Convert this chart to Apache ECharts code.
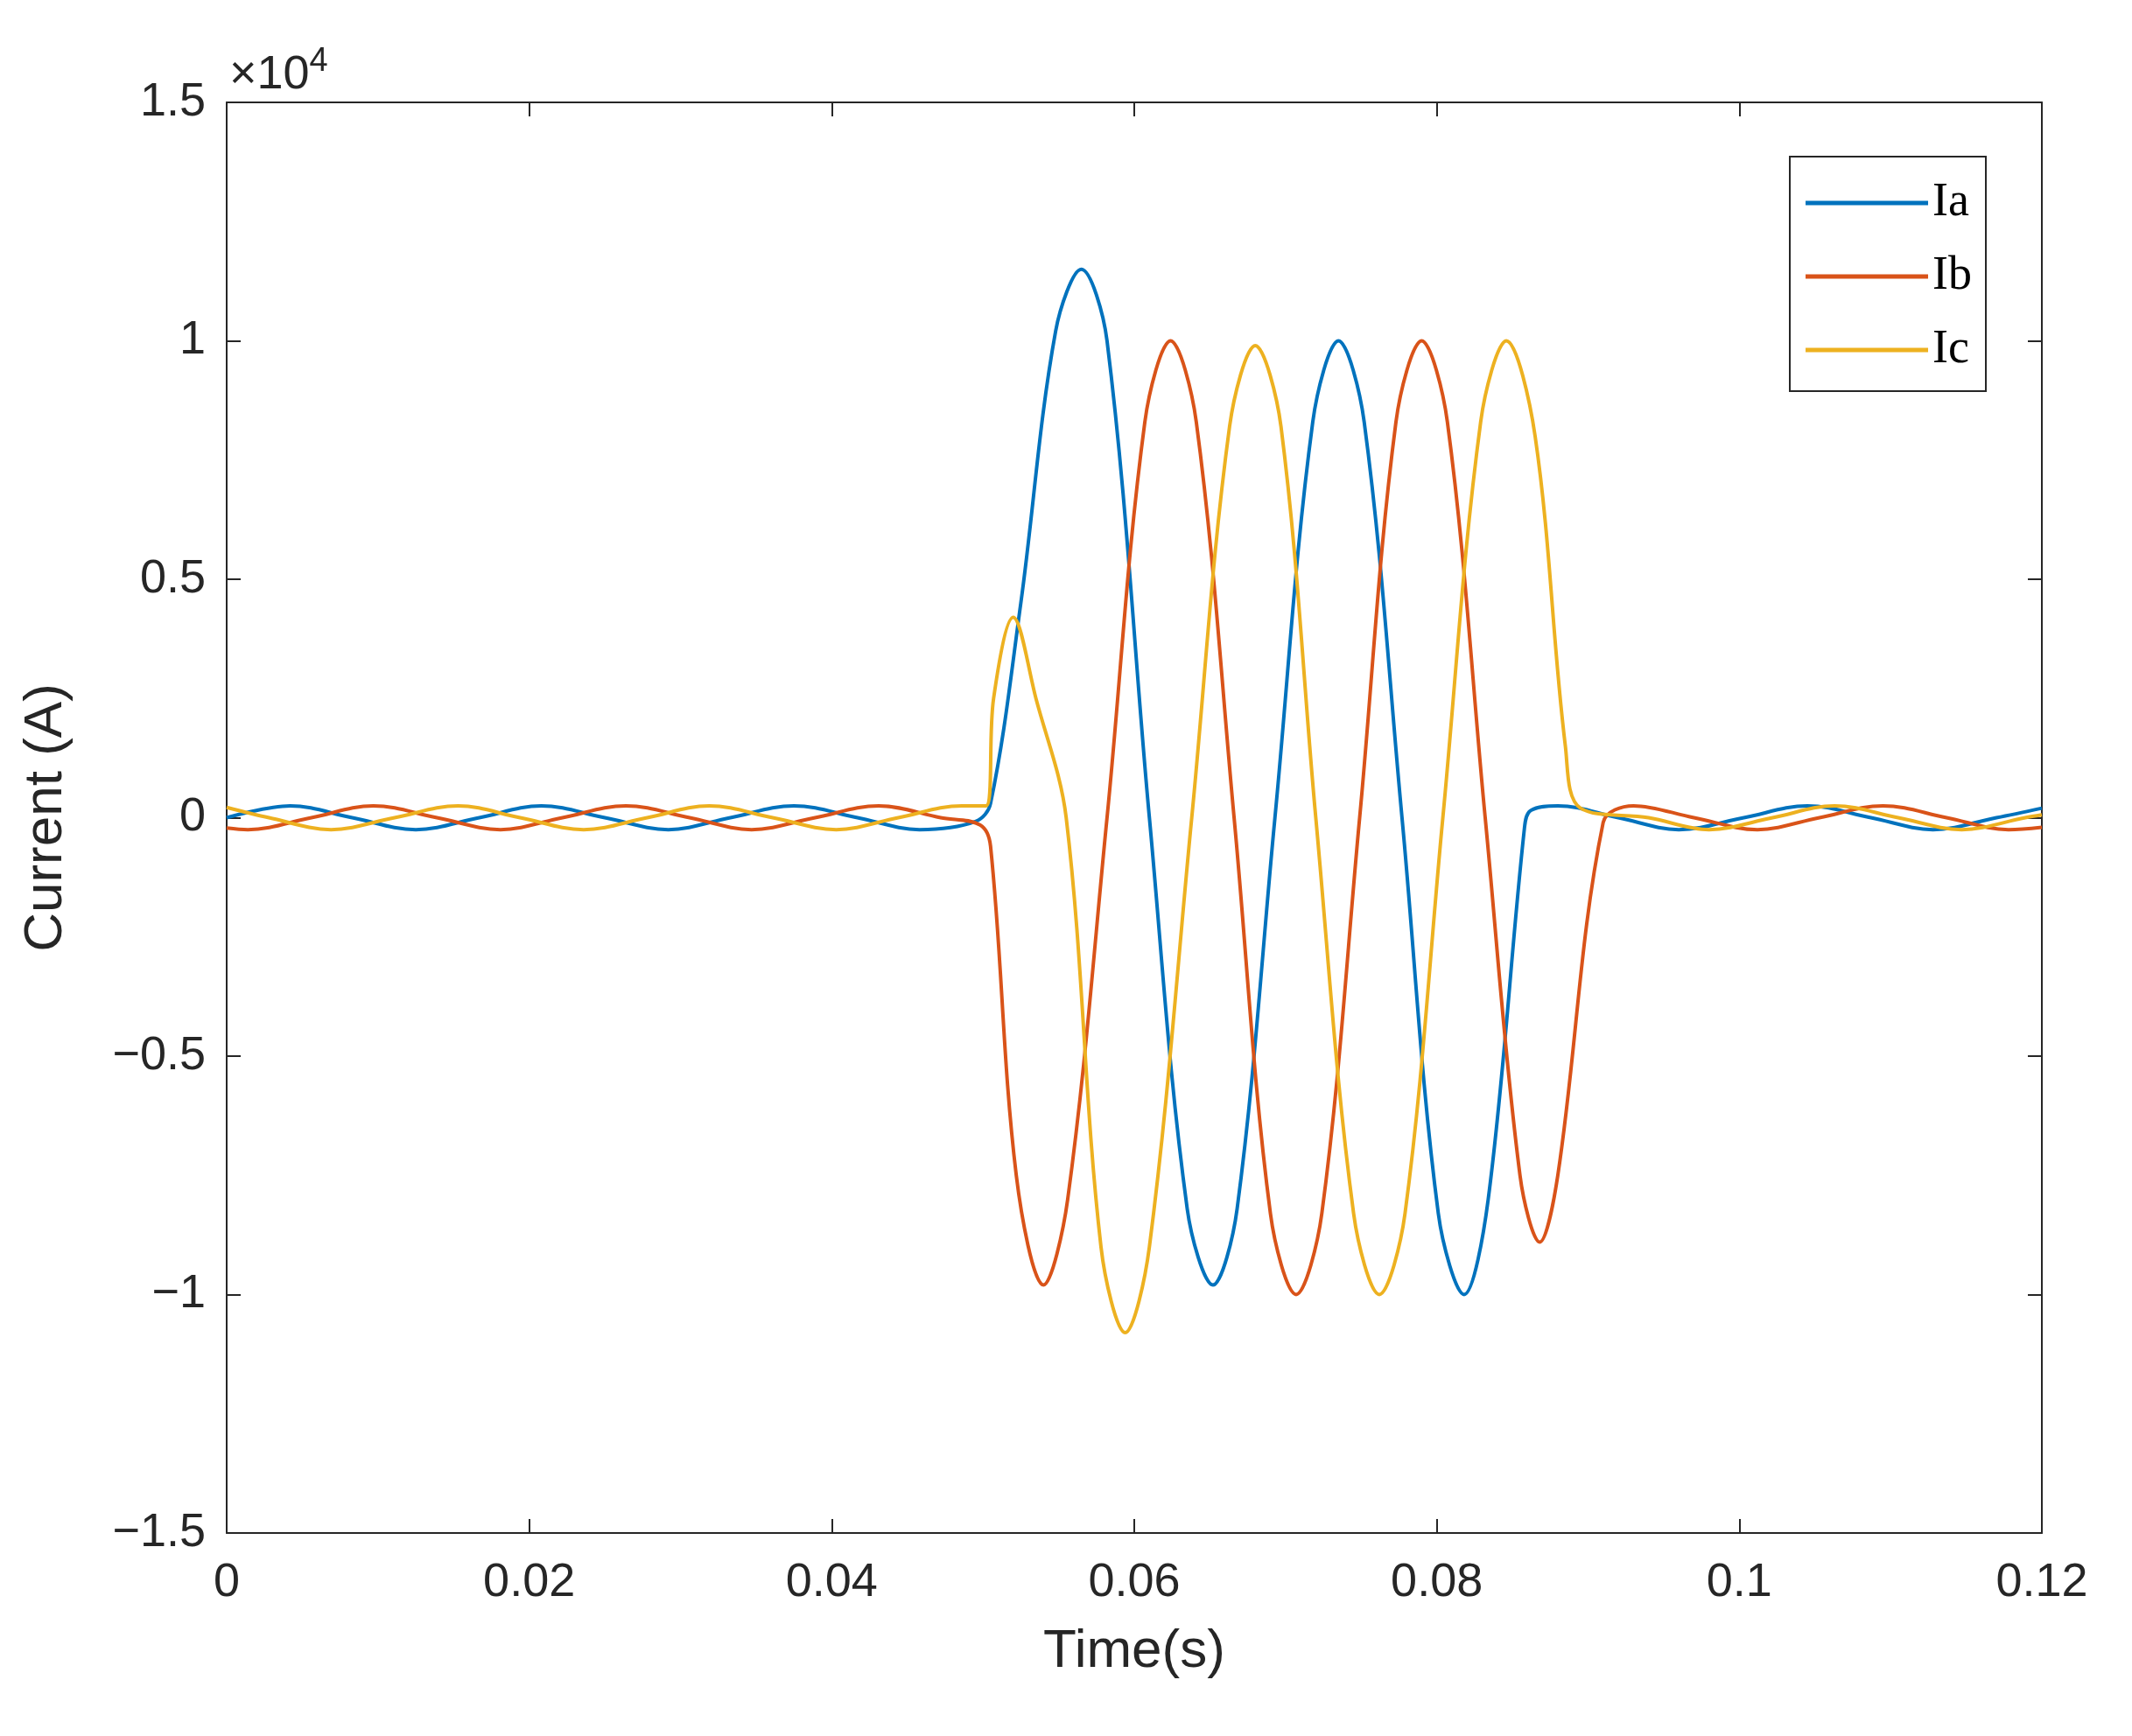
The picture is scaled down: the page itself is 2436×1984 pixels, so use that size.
<!DOCTYPE html>
<html>
<head>
<meta charset="utf-8">
<script src="https://cdn.jsdelivr.net/npm/echarts@6/dist/echarts.min.js"></script>
<style>html,body{margin:0;background:#fff}#c{width:2436px;height:1984px}</style>
</head>
<body>
<div id="c"></div>
<script>
// waveform samples: [time (s), current (A)]
const iaPoints = [
  [0, 0], [0.0042, 250], [0.0083, 0], [0.0125, -250], [0.0167, 0], [0.0208, 250], [0.025, 0],
  [0.0292, -250], [0.0333, 0], [0.0375, 250], [0.0417, 0], [0.0458, -250], [0.0495, -80],
  [0.0505, 300], [0.0525, 4500], [0.0548, 10200], [0.0565, 11500], [0.0582, 10000],
  [0.0610, 0], [0.0635, -8200], [0.0652, -9800], [0.0668, -8200], [0.0693, 0],
  [0.0718, 8300], [0.0735, 10000], [0.0752, 8300], [0.0777, 0], [0.0801, -8300],
  [0.0818, -10000], [0.0834, -8000], [0.0858, -200], [0.0862, 150], [0.088, 250],
  [0.092, 0], [0.096, -250], [0.1003, 0], [0.1045, 250], [0.1087, 0], [0.1128, -250],
  [0.117, 0], [0.12, 200]
];
const ibPoints = [
  [0, -216], [0.0014, -250], [0.0056, 0], [0.0097, 250], [0.0139, 0], [0.0181, -250],
  [0.0222, 0], [0.0264, 250], [0.0306, 0], [0.0347, -250], [0.0389, 0], [0.0431, 250],
  [0.0472, 0], [0.0498, -150], [0.0505, -600], [0.0522, -7500], [0.054, -9800],
  [0.0556, -8000], [0.0582, 0], [0.0607, 8300], [0.0624, 10000], [0.0641, 8300],
  [0.0666, 0], [0.069, -8300], [0.0707, -10000], [0.0724, -8300], [0.0749, 0],
  [0.0773, 8300], [0.079, 10000], [0.0807, 8300], [0.0832, 0], [0.0855, -7500],
  [0.0868, -8900], [0.088, -7500], [0.091, -100], [0.093, 250], [0.097, 0],
  [0.1012, -250], [0.1053, 0], [0.1095, 250], [0.1137, 0], [0.1178, -250], [0.12, -200]
];
const icPoints = [
  [0, 216], [0.0028, 0], [0.0069, -250], [0.0111, 0], [0.0153, 250], [0.0194, 0],
  [0.0236, -250], [0.0278, 0], [0.0319, 250], [0.0361, 0], [0.0403, -250], [0.0444, 0],
  [0.0486, 250], [0.0502, 250], [0.0507, 2500], [0.052, 4200], [0.0535, 2500],
  [0.0555, 0], [0.0578, -9000], [0.0594, -10800], [0.061, -9000], [0.0638, 0],
  [0.0663, 8200], [0.068, 9900], [0.0697, 8200], [0.072, 0], [0.0745, -8300],
  [0.0762, -10000], [0.0779, -8300], [0.0804, 0], [0.0829, 8300], [0.0846, 10000],
  [0.0865, 8000], [0.0885, 1500], [0.0895, 200], [0.094, 0], [0.098, -250],
  [0.1022, 0], [0.1063, 250], [0.1105, 0], [0.1147, -250], [0.1189, 0], [0.12, 60]
];
const xTicks = [0, 0.02, 0.04, 0.06, 0.08, 0.1, 0.12];
const yTicks = [-15000, -10000, -5000, 0, 5000, 10000, 15000];

const chart = echarts.init(document.getElementById('c'));
const font = 'Arial, "Liberation Sans", sans-serif';
function axisCommon() {
  return {
    axisLine: { onZero: false, lineStyle: { color: '#262626', width: 2 } },
    axisTick: { inside: true, length: 16, lineStyle: { color: '#262626', width: 2 } },
    splitLine: { show: false }
  };
}
function fmtY(v) {
  const s = String(v / 1e4);
  return s.replace('-', '\u2212');
}
function line(name, pts, color) {
  return {
    name: name, type: 'line', data: pts, smooth: 0.35, symbol: 'none',
    lineStyle: { color: color, width: 4 }, itemStyle: { color: color }
  };
}
chart.setOption({
  animation: false,
  backgroundColor: '#fff',
  grid: { left: 259, right: 103, top: 117, bottom: 232 },
  xAxis: [
    Object.assign({
      type: 'value', min: 0, max: 0.12, interval: 0.02,
      name: 'Time(s)', nameLocation: 'middle', nameGap: 105,
      nameTextStyle: { fontFamily: font, fontSize: 62, color: '#262626' },
      axisLabel: { fontFamily: font, fontSize: 54, color: '#262626', margin: 30,
        formatter: v => String(+v.toFixed(2)) }
    }, axisCommon()),
    Object.assign({ type: 'value', position: 'top', min: 0, max: 0.12, interval: 0.02,
      axisLabel: { show: false } }, axisCommon())
  ],
  yAxis: [
    Object.assign({
      type: 'value', min: -15000, max: 15000, interval: 5000,
      name: 'Current (A)', nameLocation: 'middle', nameGap: 175,
      nameTextStyle: { fontFamily: font, fontSize: 62, color: '#262626' },
      axisLabel: { fontFamily: font, fontSize: 54, color: '#262626', margin: 24, formatter: fmtY }
    }, axisCommon()),
    Object.assign({ type: 'value', position: 'right', min: -15000, max: 15000, interval: 5000,
      axisLabel: { show: false } }, axisCommon())
  ],
  legend: {
    orient: 'vertical', right: 167, top: 179, itemWidth: 140, itemHeight: 5, itemGap: 30,
    icon: 'rect',
    padding: [26, 16, 20, 18], borderColor: '#262626', borderWidth: 2, backgroundColor: '#fff',
    textStyle: { fontFamily: '"Liberation Serif", "Times New Roman", serif', fontSize: 54, color: '#000' },
    data: ['Ia', 'Ib', 'Ic']
  },
  graphic: [{
    type: 'text', left: 262, top: 52,
    style: {
      text: '\u00d710{s|4}', fontFamily: font, fontSize: 54, fill: '#262626',
      rich: { s: { fontSize: 38, verticalAlign: 'top', padding: [0, 0, 30, 0] } }
    }
  }],
  series: [
    line('Ia', iaPoints, '#0072BD'),
    line('Ib', ibPoints, '#D95319'),
    line('Ic', icPoints, '#EDB120')
  ]
});
</script>
</body>
</html>
